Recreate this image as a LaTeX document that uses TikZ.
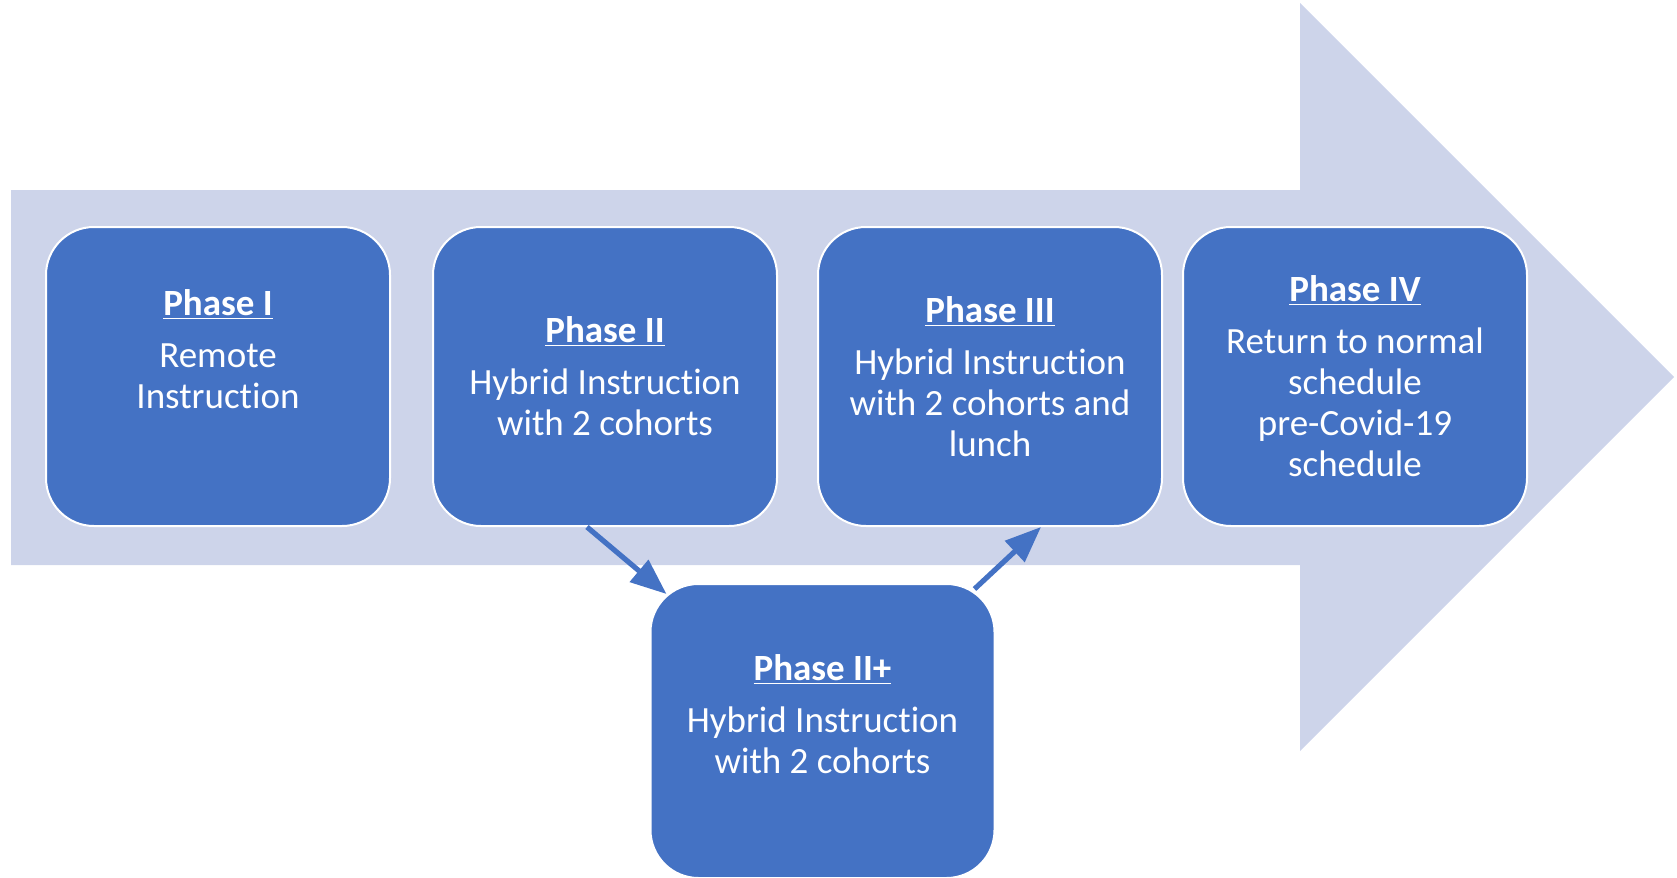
\documentclass[tikz,border=0pt]{standalone}
\usepackage{fontspec}
\setmainfont{Carlito}[Ligatures=NoCommon]
\usepackage{xcolor}
\usetikzlibrary{arrows.meta, positioning}
\definecolor{phaseblue}{HTML}{4472C4}
\definecolor{bandblue}{HTML}{CDD4EA}

\begin{document}
\begin{tikzpicture}[
        x=0.5pt, y=-0.5pt,
        >={Triangle[length=18pt, width=14pt]},
        phase/.style={draw=white, line width=1pt, fill=phaseblue, rounded corners=24pt, minimum width=172pt, minimum height=149.5pt, inner sep=0pt},
        phasetext/.style={text=white, font=\fontsize{18.5}{20.5}\selectfont, align=center, inner sep=0pt, anchor=north},
        link/.style={->, draw=phaseblue, line width=2.6pt}
    ]
        \useasboundingbox (0,0) rectangle (1677,878);
        % the wide arrow behind the phases
        \fill[bandblue] (11,190) -- (1300,190) -- (1300,3) -- (1674,377) -- (1300,751) -- (1300,565) -- (11,565) -- cycle;

        \node[phase] (p1) at (218,376.5) {};
        \node[phase] (p2) at (605,376.5) {};
        \node[phase] (p3) at (990,376.5) {};
        \node[phase] (p4) at (1355,376.5) {};
        \node[phase, minimum height=147pt] (p2plus) at (822.5,731) {};

        \node[phasetext, below=31.5pt of p1.north] (t1) {\underline{\textbf{Phase I}}\\[5.5pt]Remote\\Instruction};
        \node[phasetext, below=45pt of p2.north] (t2) {\underline{\textbf{Phase II}}\\[5.5pt]Hybrid Instruction\\with 2 cohorts};
        \node[phasetext, below=35pt of p3.north] (t3) {\underline{\textbf{Phase III}}\\[5.5pt]Hybrid Instruction\\with 2 cohorts and\\lunch};
        \node[phasetext, below=24.5pt of p4.north] (t4) {\underline{\textbf{Phase IV}}\\[5.5pt]Return to normal\\schedule\\pre-Covid-19\\schedule};
        \node[phasetext, below=35.5pt of p2plus.north] (t2plus) {\underline{\textbf{Phase II+}}\\[5.5pt]Hybrid Instruction\\with 2 cohorts};

        \draw[link] ([xshift=-9pt]p2.south) -- ([xshift=8.5pt, yshift=-5.5pt]p2plus.north west);
        \draw[link] ([xshift=-10.5pt, yshift=-3pt]p2plus.north east) -- ([xshift=25.5pt]p3.south);
    \end{tikzpicture}
\end{document}
